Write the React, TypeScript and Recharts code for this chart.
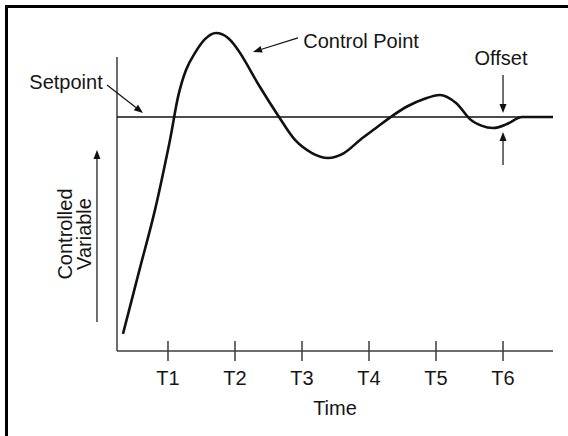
import React from "react";
import { LineChart, Line, XAxis, YAxis, ReferenceLine, ReferenceDot } from "recharts";

// Time axis (T units) and controlled variable (setpoint = 100)
const timeTicks = [1, 2, 3, 4, 5, 6];
const tickLabels = ["T1", "T2", "T3", "T4", "T5", "T6"];
const X_MIN = 0.239;
const X_MAX = 6.746;
const Y_MIN = 0;
const Y_MAX = 150;
const SETPOINT = 100;
const Y_AXIS_TOP = 125.6;

const times = [
  0.328, 0.582, 0.806, 1.03, 1.149, 1.269, 1.403, 1.552, 1.716, 1.896, 2.075, 2.373, 2.657, 2.896,
  3.149, 3.388, 3.627, 3.866, 4.104, 4.343, 4.582, 4.821, 5.06, 5.299, 5.507, 5.687, 5.851, 6.06,
  6.284, 6.507, 6.746,
];
const values = [
  7.3, 35.5, 60.3, 90.2, 108.5, 120.1, 127.4, 133.3, 135.9, 133.8, 127.4, 112.8, 100, 90.2,
  84.6, 82.5, 84.6, 90.2, 95.3, 100.4, 104.7, 107.7, 109.4, 106.0, 99.1, 96.2, 95.3, 97.0,
  100, 100, 100,
];

const data = times.map((t, i) => ({ t, v: values[i] }));

const FONT = "'Liberation Sans', Arial, Helvetica, sans-serif";
const TEXT = "#161616";
const AXIS = "#3c3c3c";

// local cubic Hermite curve (y as a function of x), passed to Recharts as its curve type
const smoothX = (context: any) => {
  let xs: number[] = [];
  let ys: number[] = [];
  return {
    areaStart() {},
    areaEnd() {},
    lineStart() {
      xs = [];
      ys = [];
    },
    point(x: number, y: number) {
      xs.push(+x);
      ys.push(+y);
    },
    lineEnd() {
      const n = xs.length;
      if (!n) return;
      context.moveTo(xs[0], ys[0]);
      if (n === 1) return;
      const m = xs.map((_, i) => {
        if (i === 0) return (ys[1] - ys[0]) / (xs[1] - xs[0]);
        if (i === n - 1) return (ys[n - 1] - ys[n - 2]) / (xs[n - 1] - xs[n - 2]);
        if ((ys[i] - ys[i - 1]) * (ys[i + 1] - ys[i]) <= 0) return 0;
        return (ys[i + 1] - ys[i - 1]) / (xs[i + 1] - xs[i - 1]);
      });
      for (let i = 0; i < n - 1; i++) {
        const h = (xs[i + 1] - xs[i]) / 3;
        context.bezierCurveTo(xs[i] + h, ys[i] + m[i] * h, xs[i + 1] - h, ys[i + 1] - m[i + 1] * h, xs[i + 1], ys[i + 1]);
      }
    },
  };
};

const TimeTick = (props: any) => {
  const { x, y, payload } = props;
  const idx = timeTicks.indexOf(payload.value);
  return (
    <g>
      <line x1={x} x2={x} y1={y - 10} y2={y + 10} stroke={AXIS} strokeWidth={1.5} />
      <text x={x} y={y + 34} textAnchor="middle" fontFamily={FONT} fontSize={20} fill={TEXT}>
        {tickLabels[idx]}
      </text>
    </g>
  );
};

const Arrow = (p: any) => {
  const { x1, y1, x2, y2 } = p;
  const dx = x2 - x1;
  const dy = y2 - y1;
  const len = Math.sqrt(dx * dx + dy * dy) || 1;
  const ux = dx / len;
  const uy = dy / len;
  const hl = 9;
  const hw = 3.5;
  const bx = x2 - ux * hl;
  const by = y2 - uy * hl;
  return (
    <g>
      <line x1={x1} y1={y1} x2={bx} y2={by} stroke="#111" strokeWidth={1.2} />
      <polygon
        points={`${x2},${y2} ${bx - uy * hw},${by + ux * hw} ${bx + uy * hw},${by - ux * hw}`}
        fill="#111"
      />
    </g>
  );
};

const makeText = (label: string, rotate = false) => (p: any) => {
  const { cx, cy } = p;
  return (
    <text
      x={cx}
      y={cy}
      textAnchor="middle"
      fontFamily={FONT}
      fontSize={20}
      fill={TEXT}
      transform={rotate ? `rotate(-90 ${cx} ${cy})` : undefined}
    >
      {label}
    </text>
  );
};

export default function App() {
  return (
    <div style={{ position: "absolute", left: 0, top: 0, width: 568, height: 436, overflow: "hidden", background: "#fff" }}>
      <div
        style={{
          position: "absolute",
          left: 5,
          top: 5,
          width: 700,
          height: 600,
          borderLeft: "3.5px solid #000",
          borderTop: "3.5px solid #000",
        }}
      />
      <div style={{ position: "absolute", left: 0, top: 0 }}>
        <LineChart width={568} height={436} data={data} margin={{ top: 0, right: 15, bottom: 0, left: 117 }}>
          <XAxis
            dataKey="t"
            type="number"
            domain={[X_MIN, X_MAX]}
            ticks={timeTicks}
            height={85}
            tickSize={0}
            tickMargin={0}
            tickLine={false}
            axisLine={{ stroke: AXIS, strokeWidth: 1.5 }}
            tick={<TimeTick />}
            label={{ value: "Time", position: "insideTop", offset: 50, fontFamily: FONT, fontSize: 20, fill: TEXT }}
          />
          <YAxis hide type="number" domain={[Y_MIN, Y_MAX]} />
          <ReferenceLine
            segment={[{ x: X_MIN, y: Y_MIN }, { x: X_MIN, y: Y_AXIS_TOP }]}
            stroke={AXIS}
            strokeWidth={1.5}
            ifOverflow="visible"
          />
          <ReferenceLine y={SETPOINT} stroke="#111" strokeWidth={1.6} />
          <Line
            dataKey="v"
            type={smoothX as any}
            stroke="#111"
            strokeWidth={2.6}
            dot={false}
            activeDot={false}
            isAnimationActive={false}
          />
          {/* annotation arrows */}
          <ReferenceLine segment={[{ x: 0.09, y: 113.7 }, { x: 0.627, y: 101.7 }]} ifOverflow="visible" shape={Arrow} />
          <ReferenceLine segment={[{ x: 2.94, y: 133.8 }, { x: 2.269, y: 127.8 }]} ifOverflow="visible" shape={Arrow} />
          <ReferenceLine segment={[{ x: 6.0, y: 117.9 }, { x: 6.0, y: 101.7 }]} ifOverflow="visible" shape={Arrow} />
          <ReferenceLine segment={[{ x: 6.0, y: 79.5 }, { x: 6.0, y: 93.6 }]} ifOverflow="visible" shape={Arrow} />
          <ReferenceLine segment={[{ x: -0.06, y: 12.4 }, { x: -0.06, y: 85.9 }]} ifOverflow="visible" shape={Arrow} />
          {/* annotation texts */}
          <ReferenceDot x={-0.522} y={112.0} r={0} ifOverflow="visible" shape={makeText("Setpoint")} />
          <ReferenceDot x={3.881} y={129.5} r={0} ifOverflow="visible" shape={makeText("Control Point")} />
          <ReferenceDot x={5.97} y={122.2} r={0} ifOverflow="visible" shape={makeText("Offset")} />
          <ReferenceDot x={-0.433} y={50.0} r={0} ifOverflow="visible" shape={makeText("Controlled", true)} />
          <ReferenceDot x={-0.149} y={50.0} r={0} ifOverflow="visible" shape={makeText("Variable", true)} />
        </LineChart>
      </div>
    </div>
  );
}
